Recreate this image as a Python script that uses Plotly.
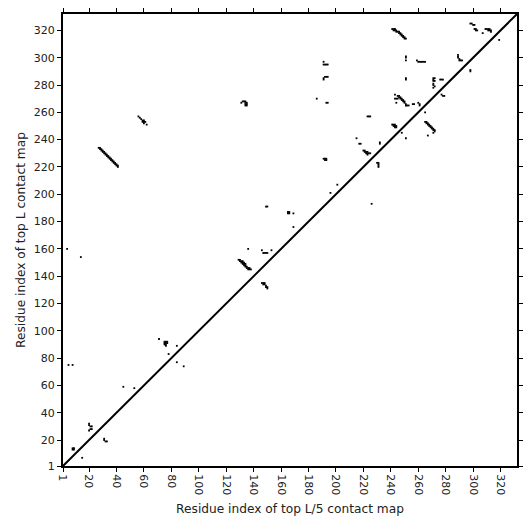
import plotly.graph_objects as go

# Residue range and tick labels
L = 332
tick_values = [1, 20, 40, 60, 80, 100, 120, 140, 160, 180, 200, 220, 240, 260, 280, 300, 320]

# Contacts above the diagonal (top L contact map)
upper_x = [27, 28, 28, 29, 29, 30, 30, 31, 31, 32, 32, 33, 33, 34, 34, 35, 35, 36, 36, 37, 37, 38, 38, 39, 39, 40, 40, 41, 41,
           56, 57, 58, 59, 59, 60, 60, 60, 61, 62,
           131, 132, 133, 134, 134, 135, 134, 135, 134, 135,
           191, 191, 192, 193, 194, 192, 193, 194, 191, 191, 186, 193, 194,
           192, 193, 192, 193, 191,
           221, 222, 223, 222, 223, 224, 225, 223, 220, 221,
           218, 215, 217, 232, 232,
           201, 196, 165, 166, 165, 166, 169, 169, 149, 150,
           136, 146, 147, 148, 149, 150, 153,
           129, 130, 130, 131, 131, 132, 132, 133, 133, 134, 134, 135, 135, 136, 136, 137, 137, 138, 132, 133, 134,
           75, 76, 77, 75, 76, 75, 76, 77, 76, 71, 84, 78,
           5, 8, 4, 14, 45, 53,
           20, 20, 21, 22, 21, 22, 20,
           8, 9, 8, 9,
           241, 242, 243, 242, 243, 244, 244, 245, 246, 246, 247, 247, 248, 248, 249, 249, 250, 250, 251,
           251, 251, 251, 251, 251,
           260, 261, 262, 263, 264, 265, 259,
           289, 289, 289, 290, 290, 291, 292,
           298, 299, 300, 301, 301, 302, 302, 303, 309, 310, 311, 312, 311, 312, 313, 313, 307,
           271, 272, 271, 271, 272, 271, 271, 272, 271, 276, 277, 278, 277, 278, 279,
           245, 246, 246, 247, 247, 248, 248, 249, 249, 250, 250, 251, 252, 251, 243, 243, 244, 245, 244, 253, 256, 257, 260, 261, 261,
           241, 242, 243, 242, 243, 244, 243, 244,
           223, 224, 225]
upper_y = [234, 234, 233, 233, 232, 232, 231, 231, 230, 230, 229, 229, 228, 228, 227, 227, 226, 226, 225, 225, 224, 224, 223, 223, 222, 222, 221, 221, 220,
           257, 256, 255, 254, 253, 254, 253, 252, 253, 251,
           267, 268, 268, 268, 267, 267, 266, 266, 265, 265,
           297, 295, 295, 295, 295, 286, 286, 286, 285, 284, 270, 267, 267,
           226, 226, 225, 225, 226,
           231, 231, 231, 230, 230, 230, 230, 229, 232, 232,
           237, 241, 237, 238, 237,
           207, 201, 186, 186, 187, 187, 186, 176, 191, 191,
           160, 159, 157, 157, 157, 157, 159,
           152, 152, 151, 151, 150, 150, 149, 149, 148, 148, 147, 147, 146, 146, 145, 146, 145, 145, 151, 150, 149,
           92, 92, 92, 91, 91, 90, 90, 91, 89, 94, 89, 83,
           75, 75, 160, 154, 59, 58,
           32, 31, 30, 30, 28, 28, 27,
           14, 14, 13, 13,
           321, 321, 321, 320, 320, 320, 319, 319, 319, 318, 318, 317, 317, 316, 316, 315, 315, 314, 314,
           301, 300, 298, 285, 284,
           297, 297, 297, 297, 297, 297, 298,
           302, 301, 300, 299, 298, 298, 298,
           325, 325, 324, 324, 321, 321, 320, 320, 321, 321, 321, 321, 320, 320, 320, 319, 318,
           285, 285, 284, 283, 283, 281, 280, 279, 278, 284, 284, 284, 273, 272, 272,
           272, 272, 271, 271, 270, 270, 269, 269, 268, 268, 267, 266, 265, 265, 273, 270, 270, 270, 267, 265, 266, 266, 267, 266, 265,
           251, 251, 251, 250, 250, 250, 249, 249,
           257, 257, 257]

# Contacts below the diagonal (top L/5 contact map)
lower_x = [230, 231, 231, 231, 231,
           226, 84, 89,
           31, 31, 32, 33, 15,
           146, 147, 148, 147, 148, 149, 149, 150, 150,
           265, 266, 266, 267, 267, 268, 268, 269, 269, 270, 270, 271, 271, 272, 272, 271, 267,
           298, 298, 319, 265, 248, 251]
lower_y = [223, 223, 222, 221, 220,
           193, 77, 74,
           21, 20, 19, 19, 7,
           135, 135, 135, 134, 134, 133, 132, 132, 131,
           253, 253, 252, 252, 251, 251, 250, 250, 249, 249, 248, 248, 247, 247, 246, 245, 243,
           291, 290, 313, 260, 245, 241]

fig = go.Figure()
marker = dict(symbol="square", size=1.8, color="black", line=dict(width=0))
fig.add_trace(go.Scatter(x=upper_x, y=upper_y, mode="markers", marker=marker, name="top L"))
fig.add_trace(go.Scatter(x=lower_x, y=lower_y, mode="markers", marker=marker, name="top L/5"))
fig.add_trace(go.Scatter(x=[1, L], y=[1, L], mode="lines", line=dict(color="black", width=2), name="diagonal"))

font_family = "DejaVu Sans"
axis_common = dict(
    range=[1, L], tickmode="array", tickvals=tick_values, ticktext=[str(v) for v in tick_values],
    showgrid=False, zeroline=False, showline=True, linecolor="black", linewidth=2,
    mirror="ticks", ticks="outside", ticklen=4, tickwidth=1, tickcolor="black",
    tickfont=dict(family=font_family, size=11, color="#222"), automargin=False,
)
fig.update_layout(
    width=531, height=531, showlegend=False,
    plot_bgcolor="white", paper_bgcolor="white",
    margin=dict(l=63, r=14, t=14, b=65),
    font=dict(family=font_family, color="#222"),
    xaxis=dict(**axis_common, tickangle=90,
               title=dict(text="Residue index of top L/5 contact map", font=dict(family=font_family, size=12.2), standoff=10)),
    yaxis=dict(**axis_common,
               title=dict(text="Residue index of top L contact map", font=dict(family=font_family, size=12.2), standoff=6)),
)
fig.write_html("out.html", config={"displayModeBar": False},
               post_script="document.body.style.margin='0';document.body.style.padding='0';")
